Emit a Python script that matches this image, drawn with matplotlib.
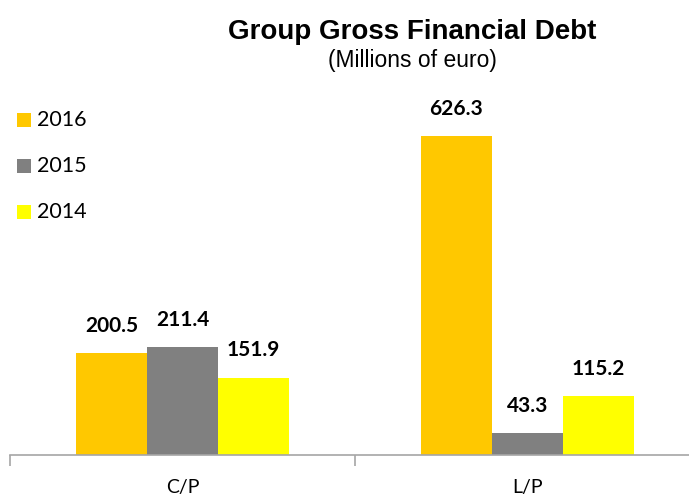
import matplotlib.pyplot as plt
from matplotlib.patches import Rectangle
import numpy as np

categories = ['C/P', 'L/P']
years = ['2016', '2015', '2014']
values = {
    '2016': [200.5, 626.3],
    '2015': [211.4, 43.3],
    '2014': [151.9, 115.2],
}
colors = {'2016': '#FFC800', '2015': '#808080', '2014': '#FFFF00'}

body_font = ['Lato', 'DejaVu Sans']
head_font = ['Liberation Sans', 'DejaVu Sans']

W, H = 689, 496
fig = plt.figure(figsize=(W / 100, H / 100), dpi=100)
ax = fig.add_axes([10 / W, 41 / H, 690 / W, 356 / H])

x = np.arange(len(categories))
w = 0.206
for i, yr in enumerate(years):
    pos = x + (i - 1) * w
    bars = ax.bar(pos, values[yr], width=w, color=colors[yr])
    for b, v in zip(bars, values[yr]):
        ax.text(b.get_x() + b.get_width() / 2, v + 34, f'{v:.1f}',
                ha='center', va='bottom', fontsize=15, fontweight='bold',
                family=body_font)

ax.set_xlim(-0.5, 1.5)
ax.set_ylim(0, 700)
for s in ['top', 'right', 'left']:
    ax.spines[s].set_visible(False)
ax.spines['bottom'].set_color('#a6a6a6')
ax.spines['bottom'].set_linewidth(1.2)
ax.set_yticks([])
ax.set_xticks([-0.5, 0.5, 1.5])
ax.set_xticklabels([])
ax.tick_params(axis='x', which='major', length=8, color='#a6a6a6', width=1.2)
ax.set_xticks(x, minor=True)
ax.set_xticklabels(categories, minor=True, fontsize=14, family=body_font)
ax.tick_params(axis='x', which='minor', length=0, pad=17)

fig.text(412 / W, 1 - 32 / H, 'Group Gross Financial Debt', ha='center', va='center',
         fontsize=20, fontweight='bold', family=head_font)
fig.text(412 / W, 1 - 61 / H, '(Millions of euro)', ha='center', va='center',
         fontsize=16.5, family=head_font)

# legend drawn by hand
for k, yr in enumerate(years):
    yc = 120 + 46 * k
    fig.patches.append(Rectangle((17 / W, 1 - (yc + 7) / H), 14 / W, 14 / H,
                                 transform=fig.transFigure, facecolor=colors[yr],
                                 edgecolor='none'))
    fig.text(37 / W, 1 - yc / H, yr, ha='left', va='center', fontsize=15.5,
             family=body_font)

fig.savefig('out.png', dpi=100)
